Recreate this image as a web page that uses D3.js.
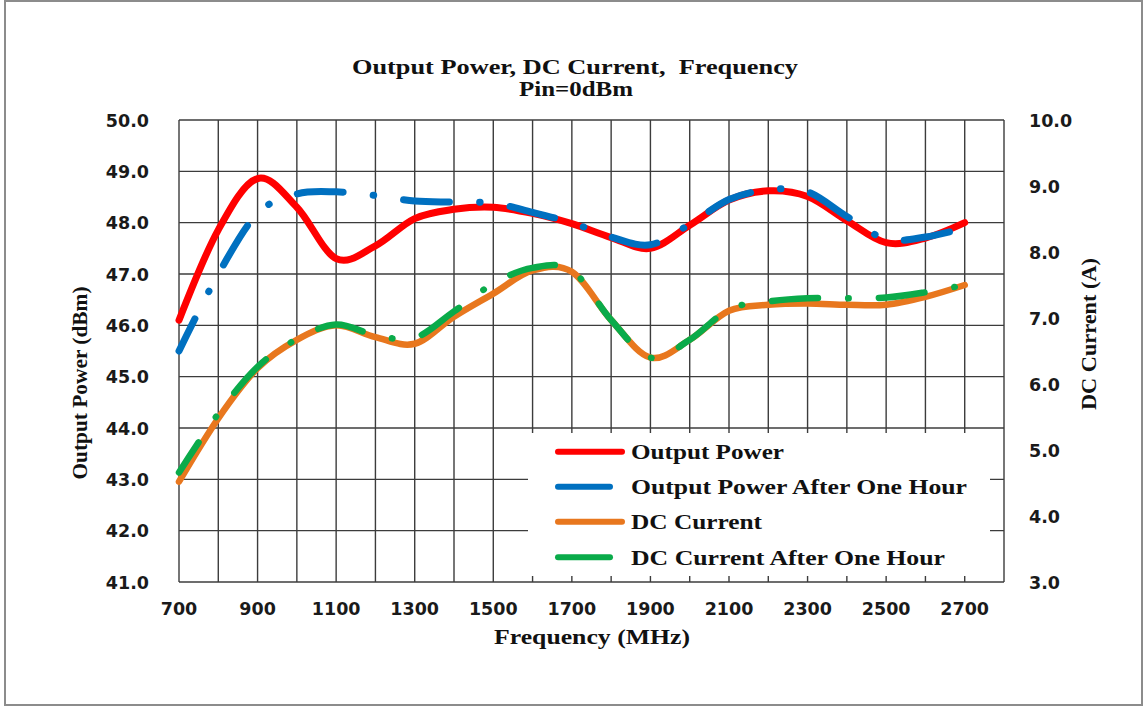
<!DOCTYPE html>
<html>
<head>
<meta charset="utf-8">
<script src="https://cdn.jsdelivr.net/npm/d3@7"></script>
<style>
  html, body { margin: 0; padding: 0; background: #fff; }
  svg { display: block; }
</style>
</head>
<body>
<div id="chart"></div>
<script>
(function () {
  'use strict';

  // ---- data ----
  var freqs = [700, 800, 900, 1000, 1100, 1200, 1300, 1400, 1500, 1600, 1700,
    1800, 1900, 2000, 2100, 2200, 2300, 2400, 2500, 2600, 2700];

  var outputPower = [46.1, 47.86, 48.86, 48.3, 47.3, 47.55, 48.08, 48.26, 48.3, 48.18, 47.98,
    47.71, 47.5, 47.95, 48.44, 48.62, 48.51, 48.04, 47.61, 47.7, 48.0];

  var outputPowerHour = [45.5, 47.0, 48.18, 48.56, 48.6, 48.53, 48.42, 48.4, 48.38, 48.2, 48.0,
    47.72, 47.57, 47.97, 48.45, 48.64, 48.6, 48.12, 47.68, 47.72, 47.9];

  var dcCurrent = [4.52, 5.48, 6.24, 6.67, 6.89, 6.71, 6.61, 7.02, 7.37, 7.72, 7.7,
    6.97, 6.4, 6.67, 7.11, 7.2, 7.22, 7.2, 7.2, 7.32, 7.5];

  var dcCurrentHour = [4.66, 5.55, 6.26, 6.68, 6.9, 6.74, 6.7, 7.1, 7.52, 7.76, 7.72,
    6.97, 6.4, 6.67, 7.13, 7.25, 7.3, 7.3, 7.31, 7.39, 7.5];

  var xTicks = [700, 900, 1100, 1300, 1500, 1700, 1900, 2100, 2300, 2500, 2700];
  var leftTicks = [41, 42, 43, 44, 45, 46, 47, 48, 49, 50];
  var rightTicks = [3, 4, 5, 6, 7, 8, 9, 10];

  var seriesNames = ['Output Power', 'Output Power After One Hour', 'DC Current', 'DC Current After One Hour'];

  var width = 1148;
  var height = 708;
  var plot = { left: 179, right: 1004, top: 120, bottom: 582 };

  var x = d3.scaleLinear().domain([700, 2800]).range([plot.left, plot.right]);
  var yL = d3.scaleLinear().domain([41, 50]).range([plot.bottom, plot.top]);
  var yR = d3.scaleLinear().domain([3, 10]).range([plot.bottom, plot.top]);

  var serif = '"Liberation Serif", "Times New Roman", serif';
  var sans = '"DejaVu Sans", Verdana, sans-serif';

  var svg = d3.select('#chart').append('svg')
    .attr('width', width).attr('height', height);

  // outer frame
  svg.append('rect')
    .attr('x', 5).attr('y', 1).attr('width', 1137).attr('height', 704)
    .attr('fill', '#fff').attr('stroke', '#8c8c8c').attr('stroke-width', 2);

  // gridlines
  var grid = svg.append('g').attr('stroke', '#3c3c3c').attr('stroke-width', 1.4);
  d3.range(700, 2801, 100).forEach(function (f) {
    grid.append('line')
      .attr('x1', x(f)).attr('x2', x(f))
      .attr('y1', plot.top).attr('y2', plot.bottom);
  });
  leftTicks.forEach(function (v) {
    grid.append('line')
      .attr('x1', plot.left).attr('x2', plot.right)
      .attr('y1', yL(v)).attr('y2', yL(v));
  });

  // tick labels
  svg.append('g').selectAll('text').data(leftTicks).enter().append('text')
    .attr('x', 149).attr('y', function (d) { return yL(d) + 6.5; })
    .attr('text-anchor', 'end')
    .attr('font-family', sans).attr('font-weight', 'bold').attr('font-size', '17.5px')
    .attr('fill', '#1a1a1a')
    .text(function (d) { return d.toFixed(1); });

  svg.append('g').selectAll('text').data(rightTicks).enter().append('text')
    .attr('x', 1029).attr('y', function (d) { return yR(d) + 6.5; })
    .attr('text-anchor', 'start')
    .attr('font-family', sans).attr('font-weight', 'bold').attr('font-size', '17.5px')
    .attr('fill', '#1a1a1a')
    .text(function (d) { return d.toFixed(1); });

  svg.append('g').selectAll('text').data(xTicks).enter().append('text')
    .attr('x', function (d) { return x(d); }).attr('y', 615)
    .attr('text-anchor', 'middle')
    .attr('font-family', sans).attr('font-weight', 'bold').attr('font-size', '17.5px')
    .attr('fill', '#1a1a1a')
    .text(function (d) { return d; });

  // serif labels, stretched to the widths in the reference
  function serifText(str, tx, ty, size, len, rot) {
    return svg.append('text')
      .attr('transform', 'translate(' + tx + ',' + ty + ')' + (rot ? ' rotate(' + rot + ')' : ''))
      .attr('text-anchor', 'middle')
      .attr('font-family', serif).attr('font-weight', 'bold')
      .attr('font-size', size + 'px').attr('fill', '#111')
      .attr('textLength', len).attr('lengthAdjust', 'spacingAndGlyphs')
      .style('white-space', 'pre')
      .text(str);
  }

  serifText('Output Power, DC Current,  Frequency', 575, 74, 20.5, 446);
  serifText('Pin=0dBm', 576, 96, 20, 114);
  serifText('Frequency (MHz)', 592, 644, 20, 196);
  serifText('Output Power (dBm)', 87, 383, 20, 193, -90);
  serifText('DC Current (A)', 1096, 334, 20, 152, -90);

  // lines
  var curve = d3.curveCatmullRom.alpha(0);
  function lineFor(scale) {
    return d3.line()
      .x(function (d) { return x(d[0]); })
      .y(function (d) { return scale(d[1]); })
      .curve(curve);
  }
  function pairs(vals) { return freqs.map(function (f, i) { return [f, vals[i]]; }); }

  var longDashDot = '46,30.2,0.5,30.2';
  var series = [
    { vals: outputPower, scale: yL, color: '#ff0000', w: 7, dash: null },
    { vals: outputPowerHour, scale: yL, color: '#0070c0', w: 7, dash: longDashDot },
    { vals: dcCurrent, scale: yR, color: '#e8771e', w: 6.5, dash: null },
    { vals: dcCurrentHour, scale: yR, color: '#0aab4a', w: 6.5, dash: longDashDot }
  ];

  var lines = svg.append('g').attr('fill', 'none');
  series.forEach(function (s) {
    var p = lines.append('path')
      .attr('d', lineFor(s.scale)(pairs(s.vals)))
      .attr('stroke', s.color)
      .attr('stroke-width', s.w)
      .attr('stroke-linecap', 'round')
      .attr('stroke-linejoin', 'round');
    if (s.dash) {
      p.attr('stroke-dasharray', s.dash).attr('stroke-dashoffset', 10);
    }
  });

  // legend
  var lg = svg.append('g');
  lg.append('rect')
    .attr('x', 528).attr('y', 433).attr('width', 462).attr('height', 143)
    .attr('fill', '#fff');

  var legendRows = [451.7, 486.7, 521.7, 557.3];
  var legendEnds = [622, 610, 622, 610];
  var legendLens = [153, 336, 131, 314];
  seriesNames.forEach(function (name, i) {
    lg.append('line')
      .attr('x1', 558).attr('x2', legendEnds[i])
      .attr('y1', legendRows[i]).attr('y2', legendRows[i])
      .attr('stroke', series[i].color).attr('stroke-width', 6)
      .attr('stroke-linecap', 'round');
    lg.append('text')
      .attr('x', 631).attr('y', legendRows[i] + 7.5)
      .attr('font-family', serif).attr('font-weight', 'bold')
      .attr('font-size', '22px').attr('fill', '#111')
      .attr('textLength', legendLens[i]).attr('lengthAdjust', 'spacingAndGlyphs')
      .text(name);
  });
})();
</script>
</body>
</html>
